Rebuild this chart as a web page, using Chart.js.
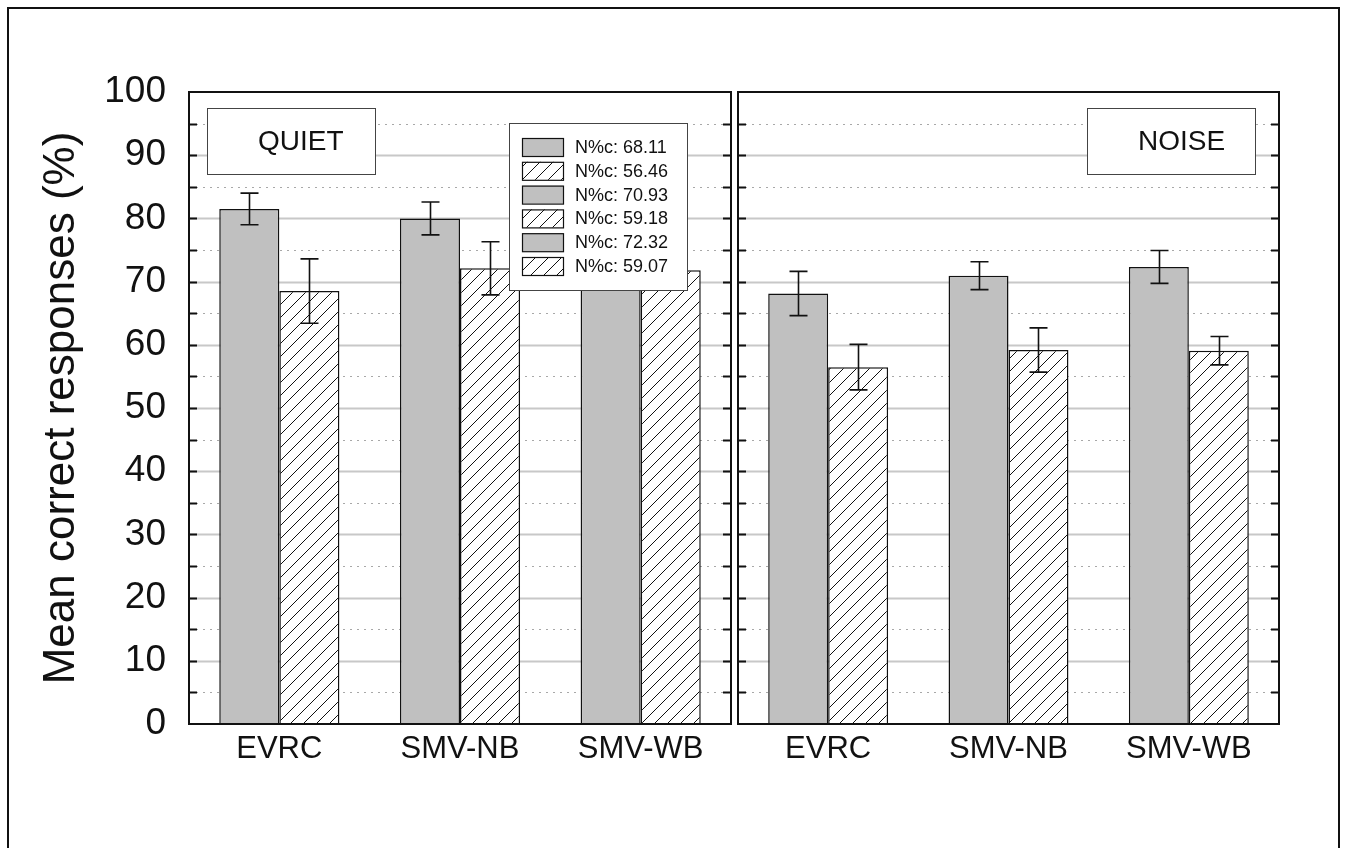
<!DOCTYPE html>
<html>
<head>
<meta charset="utf-8">
<script src="https://cdn.jsdelivr.net/npm/chart.js@4.4.0/dist/chart.umd.min.js"></script>
<style>
    html, body { margin: 0; padding: 0; background: #fff; }
    body { width: 1346px; height: 848px; position: relative; overflow: hidden; }
    #frame { position: absolute; left: 7px; top: 7px; width: 1329px; height: 900px; border: 2px solid #111; }
    #quietChart { position: absolute; left: 0; top: 0; }
    #noiseChart { position: absolute; left: 731px; top: 0; }
</style>
</head>
<body>
<div id="frame"></div>
<canvas id="quietChart" width="740" height="848"></canvas>
<canvas id="noiseChart" width="615" height="848"></canvas>
<script>
// values (quiet SMV-WB plain bar is hidden by the legend; estimated)
const categories = ['EVRC', 'SMV-NB', 'SMV-WB'];
const yTicks = [0, 10, 20, 30, 40, 50, 60, 70, 80, 90, 100];

const quietPlain = [81.5, 80.0, 80.5];
const quietPlainErr = [2.5, 2.6, 2.5];
const quietHatched = [68.5, 72.1, 71.8];
const quietHatchedErr = [5.1, 4.2, 3.0];

const noisePlain = [68.11, 70.93, 72.32];
const noisePlainErr = [3.5, 2.2, 2.6];
const noiseHatched = [56.46, 59.18, 59.07];
const noiseHatchedErr = [3.6, 3.5, 2.25];

const legendLabels = ['N%c: 68.11', 'N%c: 56.46', 'N%c: 70.93', 'N%c: 59.18', 'N%c: 72.32', 'N%c: 59.07'];

const FONT = '"Liberation Sans", Arial, Helvetica, sans-serif';
const GRAY = '#c0c0c0';
const INK = '#111';

function makeHatch() {
    const s = 13;
    const c = document.createElement('canvas');
    c.width = s; c.height = s;
    const g = c.getContext('2d');
    g.fillStyle = '#fff';
    g.fillRect(0, 0, s, s);
    g.strokeStyle = INK;
    g.lineWidth = 1;
    g.beginPath();
    g.moveTo(0, s); g.lineTo(s, 0);
    g.moveTo(-s / 2, s / 2); g.lineTo(s / 2, -s / 2);
    g.moveTo(s / 2, s * 1.5); g.lineTo(s * 1.5, s / 2);
    g.stroke();
    return g.createPattern(c, 'repeat');
}
const hatch = makeHatch();

// grid lines, inward ticks
const panelGrid = {
    id: 'panelGrid',
    beforeDatasetsDraw(chart) {
        const { ctx, chartArea: a, scales: { y } } = chart;
        ctx.save();
        for (let v = 5; v < 100; v += 5) {
            const major = v % 10 === 0;
            const py = Math.round(y.getPixelForValue(v)) + 0.5;
            ctx.beginPath();
            ctx.setLineDash(major ? [] : [2, 5]);
            ctx.lineWidth = major ? 2 : 1;
            ctx.strokeStyle = major ? '#c8c8c8' : '#a8a8a8';
            ctx.moveTo(a.left, py);
            ctx.lineTo(a.right, py);
            ctx.stroke();
        }
        ctx.setLineDash([]);
        ctx.strokeStyle = INK;
        ctx.lineWidth = 2;
        ctx.beginPath();
        for (let v = 5; v < 100; v += 5) {
            const py = Math.round(y.getPixelForValue(v)) + 0.5;
            ctx.moveTo(a.left, py); ctx.lineTo(a.left + 8, py);
            ctx.moveTo(a.right, py); ctx.lineTo(a.right - 8, py);
        }
        ctx.stroke();
        ctx.restore();
    }
};

const errorBars = {
    id: 'errorBars',
    afterDatasetsDraw(chart, args, opts) {
        const { ctx, scales: { y } } = chart;
        ctx.save();
        ctx.strokeStyle = INK;
        ctx.lineWidth = 1.6;
        chart.data.datasets.forEach((ds, di) => {
            chart.getDatasetMeta(di).data.forEach((bar, i) => {
                const v = ds.data[i];
                const e = opts.errors[di][i];
                const top = y.getPixelForValue(v + e);
                const bot = y.getPixelForValue(v - e);
                const x = Math.round(bar.x) + 0.5;
                ctx.beginPath();
                ctx.moveTo(x, top); ctx.lineTo(x, bot);
                ctx.moveTo(x - 9, top); ctx.lineTo(x + 9, top);
                ctx.moveTo(x - 9, bot); ctx.lineTo(x + 9, bot);
                ctx.stroke();
            });
        });
        ctx.restore();
    }
};

// condition box, legend and panel frame
const overlays = {
    id: 'overlays',
    afterDraw(chart, args, opts) {
        const { ctx, chartArea: a } = chart;
        ctx.save();
        const bw = 168, bh = 66;
        const bx = opts.side === 'left' ? a.left + 18 : a.right - 24 - bw;
        const by = a.top + 16;
        ctx.fillStyle = '#fff';
        ctx.fillRect(bx, by, bw, bh);
        ctx.strokeStyle = '#444';
        ctx.lineWidth = 1;
        ctx.strokeRect(bx + 0.5, by + 0.5, bw, bh);
        ctx.fillStyle = INK;
        ctx.font = '28px ' + FONT;
        ctx.textAlign = 'left';
        ctx.textBaseline = 'middle';
        ctx.fillText(opts.text, bx + 51, by + bh / 2 + 1);

        if (opts.legend) {
            const lx = 509, ly = 123, lw = 178, lh = 167;
            ctx.fillStyle = '#fff';
            ctx.fillRect(lx, ly, lw, lh);
            ctx.strokeStyle = '#444';
            ctx.strokeRect(lx + 0.5, ly + 0.5, lw, lh);
            ctx.font = '18px ' + FONT;
            legendLabels.forEach((t, i) => {
                const cy = ly + 24 + i * 23.8;
                ctx.fillStyle = i % 2 === 0 ? GRAY : hatch;
                ctx.fillRect(lx + 13, cy - 9, 41, 18);
                ctx.strokeStyle = INK;
                ctx.lineWidth = 1.2;
                ctx.strokeRect(lx + 13.5, cy - 8.5, 41, 18);
                ctx.fillStyle = INK;
                ctx.fillText(t, lx + 66, cy + 1);
            });
        }

        ctx.strokeStyle = INK;
        ctx.lineWidth = 2;
        ctx.strokeRect(a.left, a.top, a.right - a.left, a.bottom - a.top);
        ctx.restore();
    }
};

function panel(id, plain, hatched, plainErr, hatchedErr, isLeft) {
    return new Chart(document.getElementById(id).getContext('2d'), {
        type: 'bar',
        data: {
            labels: categories,
            datasets: [{
                data: plain,
                backgroundColor: GRAY,
                borderColor: INK,
                borderWidth: 1.5,
                categoryPercentage: 0.665,
                barPercentage: 1.0
            }, {
                data: hatched,
                backgroundColor: hatch,
                borderColor: INK,
                borderWidth: 1.5,
                categoryPercentage: 0.665,
                barPercentage: 1.0
            }]
        },
        options: {
            responsive: false,
            animation: false,
            layout: {
                padding: isLeft
                    ? { left: 0, top: 92, right: 9, bottom: 0 }
                    : { left: 7, top: 92, right: 67, bottom: 0 }
            },
            scales: {
                x: {
                    grid: { display: false, drawTicks: false },
                    border: { display: false },
                    ticks: { color: INK, font: { family: FONT, size: 31 }, padding: 7, maxRotation: 0 },
                    afterFit: s => { s.height = 124; }
                },
                y: {
                    min: 0,
                    max: 100,
                    afterBuildTicks: s => { s.ticks = yTicks.map(v => ({ value: v })); },
                    grid: { display: false, drawTicks: false },
                    border: { display: false },
                    ticks: { display: isLeft, color: INK, font: { family: FONT, size: 37 }, padding: 23 },
                    title: {
                        display: isLeft,
                        text: 'Mean correct responses (%)',
                        color: INK,
                        font: { family: FONT, size: 44 },
                        padding: { top: 35, bottom: 0 }
                    },
                    afterFit: s => { s.width = isLeft ? 189 : 0; }
                }
            },
            plugins: {
                legend: { display: false },
                tooltip: { enabled: false },
                errorBars: { errors: [plainErr, hatchedErr] },
                overlays: { text: isLeft ? 'QUIET' : 'NOISE', side: isLeft ? 'left' : 'right', legend: isLeft }
            }
        },
        plugins: [panelGrid, errorBars, overlays]
    });
}

panel('quietChart', quietPlain, quietHatched, quietPlainErr, quietHatchedErr, true);
panel('noiseChart', noisePlain, noiseHatched, noisePlainErr, noiseHatchedErr, false);
</script>
</body>
</html>
